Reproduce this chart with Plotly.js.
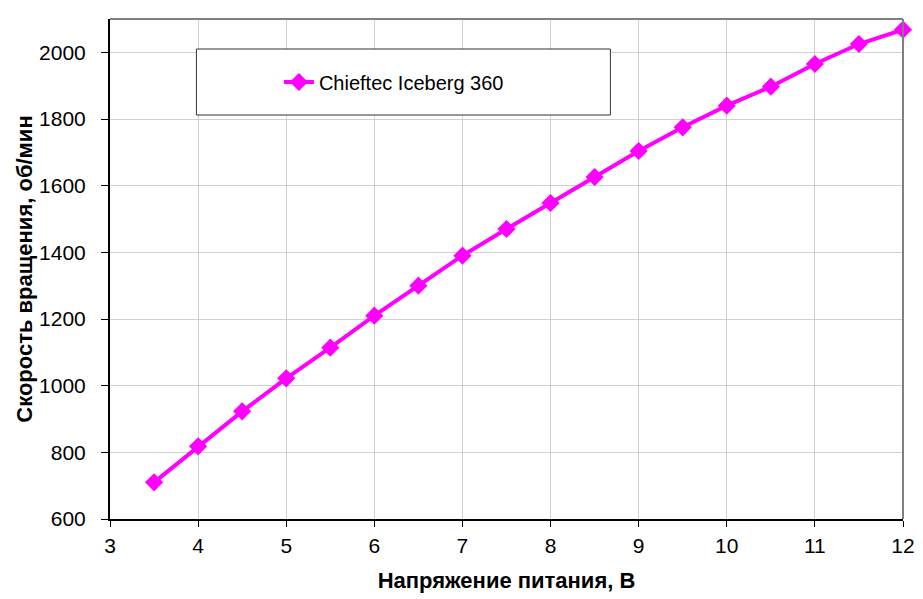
<!DOCTYPE html>
<html>
<head>
<meta charset="utf-8">
<script src="https://cdn.plot.ly/plotly-3.0.1.min.js"></script>
<style>
  html, body { margin: 0; padding: 0; background: #fff; }
  #chart { width: 923px; height: 599px; }
</style>
</head>
<body>
<div id="chart"></div>
<script>
const seriesName = 'Chieftec Iceberg 360';
const voltage = [3.5, 4, 4.5, 5, 5.5, 6, 6.5, 7, 7.5, 8, 8.5, 9, 9.5, 10, 10.5, 11, 11.5, 12];
const rpm = [710, 818, 923, 1022, 1114, 1210, 1300, 1390, 1470, 1548, 1626, 1704, 1775, 1840, 1897, 1965, 2025, 2068];
const xTicks = [3, 4, 5, 6, 7, 8, 9, 10, 11, 12];
const yTicks = [600, 800, 1000, 1200, 1400, 1600, 1800, 2000];

const trace = {
    x: voltage,
    y: rpm,
    name: seriesName,
    type: 'scatter',
    mode: 'lines+markers',
    line: { color: '#ff00ff', width: 4 },
    marker: { symbol: 'diamond', size: 14, color: '#ff00ff' },
    cliponaxis: false
};

const font = { family: 'Liberation Sans, Arial, sans-serif', color: '#000' };

const layout = {
    width: 923,
    height: 599,
    margin: { l: 110, r: 20, t: 19, b: 80 },
    paper_bgcolor: '#fff',
    plot_bgcolor: '#fff',
    font: Object.assign({ size: 20 }, font),
    showlegend: true,
    legend: {
        x: 0.213,
        y: 0.874,
        xanchor: 'left',
        yanchor: 'middle',
        bgcolor: 'rgba(0,0,0,0)',
        borderwidth: 0,
        font: Object.assign({ size: 20 }, font)
    },
    xaxis: {
        range: [3, 12],
        tickvals: xTicks,
        ticks: 'outside',
        ticklen: 6,
        tickcolor: '#000',
        ticklabelstandoff: 1,
        showline: true,
        linecolor: '#000',
        linewidth: 2,
        mirror: false,
        showgrid: true,
        gridcolor: '#d0d0d0',
        gridwidth: 1,
        zeroline: false,
        tickfont: Object.assign({ size: 21 }, font),
        title: {
            text: '<b>Напряжение питания, В</b>',
            font: Object.assign({ size: 22 }, font),
            standoff: 16
        }
    },
    yaxis: {
        range: [600, 2100],
        tickvals: yTicks,
        ticks: 'outside',
        ticklen: 7,
        tickcolor: '#000',
        ticklabelstandoff: 11,
        showline: true,
        linecolor: '#000',
        linewidth: 2,
        showgrid: true,
        gridcolor: '#d0d0d0',
        gridwidth: 1,
        zeroline: false,
        tickfont: Object.assign({ size: 21 }, font),
        title: {
            text: '<b>Скорость вращения, об/мин</b>',
            font: Object.assign({ size: 22 }, font),
            standoff: 0
        }
    },
    shapes: [
        {
            type: 'line', xref: 'paper', yref: 'paper',
            x0: 0, x1: 1, y0: 1, y1: 1,
            line: { color: '#808080', width: 2 }
        },
        {
            type: 'line', xref: 'paper', yref: 'paper',
            x0: 1, x1: 1, y0: 0, y1: 1,
            line: { color: '#808080', width: 2 }
        },
        {
            type: 'rect', xref: 'paper', yref: 'paper',
            x0: 0.109, x1: 0.631, y0: 0.808, y1: 0.94,
            fillcolor: '#fff',
            line: { color: '#333', width: 1 },
            layer: 'above'
        }
    ]
};

Plotly.newPlot('chart', [trace], layout, { displayModeBar: false, staticPlot: true });
</script>
</body>
</html>
